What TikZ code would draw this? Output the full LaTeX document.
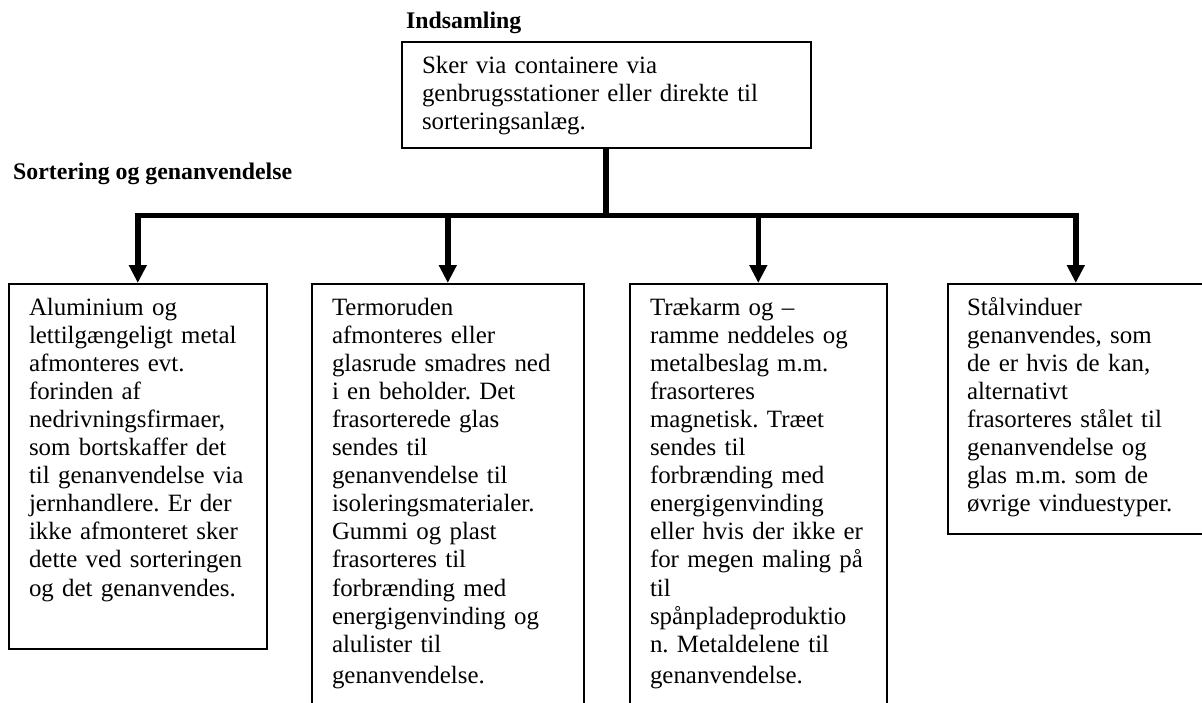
\documentclass[tikz,border=0pt]{standalone}
\usepackage{fontspec}
\setmainfont{Liberation Serif}
\usetikzlibrary{arrows.meta}
\frenchspacing
\begin{document}
\begin{tikzpicture}[x=1pt,y=-1pt,
  box/.style={draw=black,line width=1.6pt,rectangle,inner sep=0pt,anchor=north west},
  txt/.style={anchor=north west,inner sep=0pt,outer sep=0pt,align=left,text width=420pt,
    font=\fontsize{24.9}{28.1}\selectfont\frenchspacing},
  head/.style={anchor=base west,inner sep=0pt,font=\fontsize{23.8}{28}\selectfont\bfseries},
  trunk/.style={line width=5.5pt},
  conn/.style={line width=5.5pt,-{Triangle[length=18pt,width=17pt]}}]
\useasboundingbox (0,0) rectangle (1202,702);
\clip (0,0) rectangle (1202,702);
\fill[white] (0,0) rectangle (1202,702);

% headings
\node[head] (h1) at (406,28) {Indsamling};
\node[head] (h2) at (13,179) {Sortering og genanvendelse};

% top box
\node[box,minimum width=409pt,minimum height=106pt] (top) at (401,41) {};
\node[txt] (ttop) at (422,{73-19.67}) {\strut Sker via containere via\\genbrugsstationer eller direkte til\\sorteringsanlæg.};

% lower boxes
\node[box,minimum width=258pt,minimum height=365pt] (b1) at (8,283) {};
\node[box,minimum width=272pt,minimum height=440pt] (b2) at (311,283) {};
\node[box,minimum width=257pt,minimum height=440pt] (b3) at (629,283) {};
\node[box,minimum width=256pt,minimum height=250pt] (b4) at (947,283) {};

\node[txt] (t1) at (29,{315-19.67}) {\strut Aluminium og\\lettilgængeligt metal\\afmonteres evt.\\forinden af\\nedrivningsfirmaer,\\som bortskaffer det\\til genanvendelse via\\jernhandlere. Er der\\ikke afmonteret sker\\dette ved sorteringen\\og det genanvendes.};

\node[txt] (t2) at (332,{315-19.67}) {\strut Termoruden\\afmonteres eller\\glasrude smadres ned\\i en beholder. Det\\frasorterede glas\\sendes til\\genanvendelse til\\isoleringsmaterialer.\\Gummi og plast\\frasorteres til\\forbrænding med\\energigenvinding og\\alulister til\\[3pt]genanvendelse.};

\node[txt] (t3) at (650,{315-19.67}) {\strut Trækarm og –\\ramme neddeles og\\metalbeslag m.m.\\frasorteres\\magnetisk. Træet\\sendes til\\forbrænding med\\energigenvinding\\eller hvis der ikke er\\for megen maling på\\til\\spånpladeproduktio\\n. Metaldelene til\\[3pt]genanvendelse.};

\node[txt] (t4) at (967,{315-19.67}) {\strut Stålvinduer\\genanvendes, som\\de er hvis de kan,\\alternativt\\frasorteres stålet til\\genanvendelse og\\glas m.m. som de\\øvrige vinduestyper.};

% connectors
\coordinate (j) at (606,215.5);
\draw[trunk] (top.south -| j) -- (j);
\draw[conn] (j) -| (b1.north);
\draw[conn] (j) -| (b2.north);
\draw[conn] (j) -| (b3.north);
\draw[conn] (j) -| (b4.north);
\end{tikzpicture}
\end{document}
